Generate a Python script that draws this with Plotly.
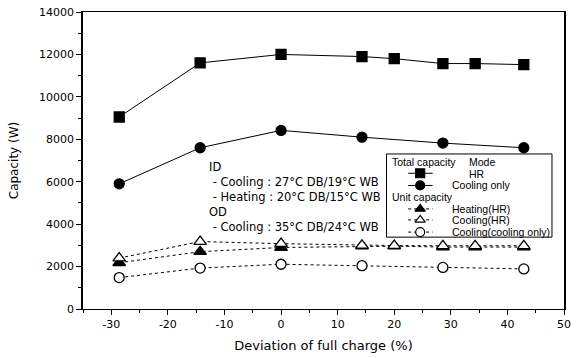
import plotly.graph_objects as go

# ---- data ----
x_hr = [-28.6, -14.3, 0, 14.3, 20, 28.6, 34.3, 42.9]
total_hr = [9050, 11600, 12000, 11900, 11800, 11570, 11570, 11520]
x_co = [-28.6, -14.3, 0, 14.3, 28.6, 42.9]
total_co = [5900, 7600, 8420, 8100, 7820, 7600]
unit_heat_hr = [2180, 2700, 2900, 2960, 2960, 2920, 2920, 2920]
unit_cool_hr = [2400, 3180, 3080, 3000, 2990, 2980, 2980, 2980]
unit_cool_co = [1480, 1930, 2110, 2040, 1960, 1890]

x_ticks = [-30, -20, -10, 0, 10, 20, 30, 40, 50]
x_tick_labels = ["-30", "-20", "-10", "0", "10", "20", "30", "40", "50"]
y_ticks = [0, 2000, 4000, 6000, 8000, 10000, 12000, 14000]
y_tick_labels = ["0", "2000", "4000", "6000", "8000", "10000", "12000", "14000"]

FONT = "DejaVu Sans"
fig = go.Figure()

def add(x, y, sym, dash, size, fill="black"):
    fig.add_trace(go.Scatter(
        x=x, y=y, mode="lines+markers",
        line=dict(color="black", width=1, dash=dash),
        marker=dict(symbol=sym, size=size, color=fill,
                    line=dict(color="black", width=1.3)),
        showlegend=False, xaxis="x", yaxis="y"))

add(x_hr, total_hr, "square", "solid", 10)
add(x_co, total_co, "circle", "solid", 10)
add(x_hr, unit_heat_hr, "triangle-up", "dot", 11)
add(x_hr, unit_cool_hr, "triangle-up", "dot", 11, "white")
add(x_co, unit_cool_co, "circle", "dot", 10, "white")

# ---- custom legend (helper axis in plot-fraction coordinates) ----
leg_line_x = [0.676, 0.727]
leg_mark_x = 0.701
leg_rows = [
    ("square", "solid", 9, "black", 0.457),
    ("circle", "solid", 9, "black", 0.416),
    ("triangle-up", "dot", 9, "black", 0.337),
    ("triangle-up", "dot", 9, "white", 0.300),
    ("circle", "dot", 9, "white", 0.259),
]
for sym, dash, sz, fill, yy in leg_rows:
    fig.add_trace(go.Scatter(x=leg_line_x, y=[yy, yy], mode="lines",
                             line=dict(color="black", width=1, dash=dash),
                             showlegend=False, xaxis="x2", yaxis="y2",
                             hoverinfo="skip"))
    fig.add_trace(go.Scatter(x=[leg_mark_x], y=[yy], mode="markers",
                             marker=dict(symbol=sym, size=sz, color=fill,
                                         line=dict(color="black", width=1.2)),
                             showlegend=False, xaxis="x2", yaxis="y2",
                             hoverinfo="skip"))

legend_texts = [
    ("Total capacity", 0.641, 0.494),
    ("Mode", 0.800, 0.494),
    ("HR", 0.800, 0.455),
    ("Cooling only", 0.766, 0.416),
    ("Unit capacity", 0.641, 0.378),
    ("Heating(HR)", 0.766, 0.337),
    ("Cooling(HR)", 0.766, 0.300),
    ("Cooling(cooling only)", 0.766, 0.259),
]
annotations = []
for t, xx, yy in legend_texts:
    annotations.append(dict(text=t, x=xx, y=yy, xref="paper", yref="paper",
                            xanchor="left", yanchor="middle", showarrow=False,
                            borderpad=0,
                            font=dict(family="Liberation Sans", size=10.5,
                                      color="black")))

cond_lines = ["ID",
              " - Cooling : 27°C DB/19°C WB",
              " - Heating : 20°C DB/15°C WB",
              "OD",
              " - Cooling : 35°C DB/24°C WB"]
annotations.append(dict(text="<br>".join(cond_lines), x=0.258, y=0.510,
                        xref="paper", yref="paper", xanchor="left",
                        yanchor="top", align="left", showarrow=False,
                        font=dict(family=FONT, size=11.5, color="black")))

fig.update_layout(
    width=577, height=358,
    margin=dict(l=83, r=6, t=12, b=49),
    paper_bgcolor="white", plot_bgcolor="white",
    font=dict(family=FONT, size=11, color="black"),
    annotations=annotations,
    shapes=[dict(type="rect", xref="paper", yref="paper",
                 x0=0.631, x1=0.975, y0=0.242, y1=0.522,
                 line=dict(color="black", width=1), fillcolor="rgba(0,0,0,0)")],
    xaxis=dict(range=[-35, 50], tickvals=x_ticks, ticktext=x_tick_labels,
               ticks="outside",
               ticklen=5, tickwidth=1, tickcolor="black",
               showline=True, linecolor="black", linewidth=1.2, mirror=True,
               showgrid=False, zeroline=False,
               minor=dict(dtick=5, ticks="outside", ticklen=3,
                          tickcolor="black", tick0=-35),
               title=dict(text="Deviation of full charge (%)",
                          font=dict(family=FONT, size=13), standoff=10),
               tickfont=dict(family=FONT, size=11)),
    yaxis=dict(range=[0, 14000], tickvals=y_ticks, ticktext=y_tick_labels,
               ticks="outside",
               ticklen=5, tickwidth=1, tickcolor="black",
               showline=True, linecolor="black", linewidth=1.5, mirror=True,
               showgrid=False, zeroline=False,
               minor=dict(dtick=1000, ticks="outside", ticklen=3,
                          tickcolor="black"),
               title=dict(text="Capacity (W)",
                          font=dict(family=FONT, size=12), standoff=18),
               tickfont=dict(family=FONT, size=11)),
    xaxis2=dict(range=[0, 1], domain=[0, 1], anchor="y2", overlaying="x",
                visible=False, fixedrange=True),
    yaxis2=dict(range=[0, 1], domain=[0, 1], anchor="x2", overlaying="y",
                visible=False, fixedrange=True),
)

fig.write_html("out.html")
